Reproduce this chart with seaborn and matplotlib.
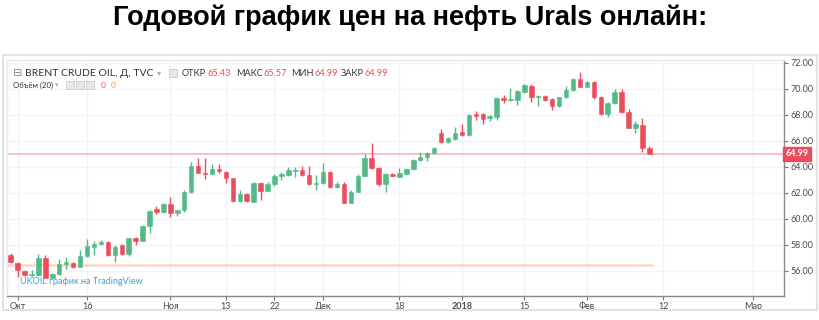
import matplotlib
matplotlib.use("Agg")
import matplotlib.pyplot as plt
from matplotlib.patches import Rectangle
import numpy as np
import pandas as pd
import seaborn as sns

# ---------------- data ----------------
opens = [57.20, 56.62, 56.00, 55.65, 55.67, 56.95, 55.46, 55.75, 56.49, 56.62,
         56.30, 57.13, 57.85, 58.05, 58.18, 57.20, 57.97, 57.26, 58.49, 58.31,
         59.44, 60.72, 60.52, 61.13, 60.42, 60.64, 62.08, 64.05, 63.54, 63.44,
         63.80, 63.62, 63.10, 61.36, 61.88, 61.31, 62.72, 62.15, 62.67, 63.28,
         63.36, 63.67, 63.75, 63.36, 62.67, 62.72, 63.62, 62.41, 62.67, 61.23,
         62.08, 63.31, 64.69, 63.87, 62.67, 63.44, 63.23, 63.44, 63.80, 64.51,
         64.72, 65.03, 66.62, 65.88, 66.13, 66.64, 66.44, 68.05, 68.03, 67.72,
         67.85, 69.26, 69.10, 69.13, 69.77, 70.23, 69.34, 69.46, 69.18, 68.69,
         69.34, 69.90, 70.75, 70.15, 70.49, 69.38, 68.05, 68.92, 69.72, 68.23,
         67.00, 67.21, 65.43]
closes = [56.70, 56.05, 55.70, 55.72, 56.95, 55.46, 55.75, 56.49, 56.64, 56.30,
          57.13, 57.90, 58.05, 58.20, 57.20, 57.85, 57.28, 58.49, 58.31, 59.44,
          60.59, 60.52, 61.13, 60.42, 60.64, 62.08, 64.05, 63.54, 63.44, 63.80,
          63.65, 63.10, 61.36, 61.88, 61.36, 62.72, 62.15, 62.67, 63.31, 63.44,
          63.75, 63.75, 63.36, 62.67, 62.77, 63.62, 62.41, 62.67, 61.23, 62.08,
          63.31, 64.69, 63.87, 62.67, 63.44, 63.31, 63.49, 63.80, 64.51, 64.77,
          65.08, 65.46, 65.88, 66.18, 66.62, 66.44, 67.98, 67.92, 67.67, 67.92,
          69.26, 69.10, 69.18, 69.82, 70.28, 69.34, 69.44, 69.13, 68.69, 69.34,
          69.90, 70.75, 70.15, 70.49, 69.38, 68.05, 68.92, 69.72, 68.18, 67.00,
          67.28, 65.46, 64.99]
highs = [57.38, 56.70, 56.05, 56.05, 57.30, 57.20, 55.85, 56.88, 57.03, 56.70,
         57.60, 58.42, 58.30, 58.35, 58.25, 57.95, 58.05, 58.55, 58.60, 59.55,
         60.70, 60.95, 61.20, 61.65, 60.70, 62.20, 64.38, 64.64, 64.64, 64.21,
         64.21, 63.70, 63.15, 62.20, 61.95, 62.85, 62.80, 62.80, 63.45, 63.62,
         64.00, 64.00, 64.05, 64.05, 63.36, 64.31, 63.70, 62.80, 62.80, 62.20,
         63.40, 64.98, 65.85, 63.95, 63.50, 63.55, 63.87, 63.90, 64.60, 65.10,
         65.15, 65.55, 66.88, 66.30, 67.03, 67.28, 68.05, 68.28, 68.10, 68.00,
         69.35, 69.50, 70.03, 69.90, 70.40, 70.35, 69.50, 69.55, 69.25, 69.40,
         70.23, 70.85, 71.31, 70.60, 70.60, 69.45, 69.00, 69.98, 70.00, 68.45,
         67.50, 67.72, 65.57]
lows = [56.60, 55.55, 55.60, 55.50, 55.60, 55.40, 55.40, 55.70, 56.13, 56.20,
        56.25, 57.05, 57.21, 58.00, 57.15, 56.67, 57.20, 57.10, 57.98, 58.25,
        58.88, 60.35, 60.40, 60.10, 60.20, 60.55, 62.00, 63.50, 63.03, 63.40,
        63.55, 62.72, 61.30, 61.30, 61.30, 61.25, 61.44, 62.10, 62.50, 62.98,
        63.30, 63.23, 63.30, 62.60, 62.20, 62.65, 62.35, 62.35, 61.20, 61.20,
        62.05, 63.25, 63.80, 62.50, 62.08, 63.25, 63.20, 63.40, 63.75, 64.45,
        64.46, 64.95, 65.80, 65.80, 66.05, 66.35, 66.40, 67.60, 67.30, 67.50,
        67.60, 68.88, 69.05, 68.75, 69.70, 68.95, 68.69, 69.05, 68.36, 68.60,
        69.30, 69.85, 70.10, 70.10, 69.20, 68.00, 67.85, 68.85, 68.10, 66.95,
        66.57, 65.10, 64.99]

tick_positions = [1, 11, 23, 31, 38, 45, 56, 65, 74, 83, 94, 107]
tick_labels = ["Окт", "16", "Ноя", "13", "22", "Дек", "18", "2018", "15", "Фев", "12", "Мар"]
price_ticks = [56, 58, 60, 62, 64, 66, 68, 70, 72]
last_price = 64.99
support_level = 56.45
header_labels = ["ОТКР", "МАКС", "МИН", "ЗАКР"]
header_values = ["65.43", "65.57", "64.99", "64.99"]

title = "Годовой график цен на нефть Urals онлайн:"
symbol = "BRENT CRUDE OIL, Д, TVC"
volume_label = "Объём (20)"
watermark = "UKOIL график на TradingView"

# ---------------- style ----------------
UP = "#53b987"
DOWN = "#eb4d5c"
GRID = "#f0f3fa"
TXT = "#4a4a4a"

sns.set_theme(style="white")
plt.rcParams["font.family"] = ["Lato", "DejaVu Sans"]

W, H = 820, 320
fig = plt.figure(figsize=(W / 100, H / 100), dpi=100)
fig.patch.set_facecolor("white")


def fx(x):
    return x / W


def fy(y):
    return 1 - y / H


# outer frame of the widget
fig.patches.append(Rectangle((fx(3), fy(310)), fx(814), (307 - 52) / H,
                             transform=fig.transFigure, fill=False,
                             edgecolor="#e0e3eb", lw=1.5, zorder=0))

left, right, top, bottom = 7, 784, 60, 296
ax = fig.add_axes([fx(left), fy(bottom), fx(right - left), (bottom - top) / H])

df = pd.DataFrame({"open": opens, "close": closes, "high": highs, "low": lows})
df["idx"] = np.arange(len(df))
df["up"] = df["close"] >= df["open"]
df["color"] = np.where(df["up"], UP, DOWN)
df["body_lo"] = df[["open", "close"]].min(axis=1)
df["body_h"] = (df["close"] - df["open"]).abs().clip(lower=0.06)

# grid
for p in price_ticks:
    ax.axhline(p, color=GRID, lw=1, zorder=0)
for t in tick_positions:
    ax.axvline(t, color=GRID, lw=1, zorder=0)

# reference lines
ax.hlines(support_level, -0.5, len(df) - 0.5, color="#f8d8c8", lw=1.8, zorder=1)
ax.axhline(last_price, color="#f4b6bd", lw=1.2, zorder=1)

# candles
ax.vlines(df["idx"], df["low"], df["high"], colors=df["color"], lw=1, zorder=2)
ax.bar(df["idx"], df["body_h"], bottom=df["body_lo"], width=0.64,
       color=df["color"], edgecolor=df["color"], lw=0.4, zorder=3)

ax.set_xlim(-0.53, 111.4)
ax.set_ylim(54.05, 72.21)

ax.yaxis.tick_right()
ax.set_yticks(price_ticks)
ax.set_yticklabels([f"{p:.2f}" for p in price_ticks])
ax.set_xticks(tick_positions)
ax.set_xticklabels(tick_labels)
for lab in ax.get_xticklabels():
    if lab.get_text() == "2018":
        lab.set_fontweight("bold")
ax.tick_params(axis="both", labelsize=6.5, colors="#777777", labelcolor=TXT,
               length=3, width=0.8, pad=2)
ax.tick_params(axis="x", pad=1)
ax.tick_params(axis="y", right=True, left=False)
ax.tick_params(axis="x", bottom=True)

for side in ["top", "left"]:
    ax.spines[side].set_color("#e6e8ee")
    ax.spines[side].set_linewidth(1)
for side in ["right", "bottom"]:
    ax.spines[side].set_color("#8a8a8a")
    ax.spines[side].set_linewidth(1)

# last price tag
ax.text(1.002, last_price, f"{last_price:.2f}", transform=ax.get_yaxis_transform(),
        ha="left", va="center", fontsize=6.5, color="white", fontweight="bold",
        bbox=dict(boxstyle="square,pad=0.25", fc=DOWN, ec=DOWN), zorder=5,
        clip_on=False)

# title
fig.text(fx(410), fy(18), title, ha="center", va="center", fontsize=19.5,
         fontweight="bold", family=["Liberation Sans", "DejaVu Sans"], color="black")

# header legend
fig.text(fx(13), fy(73), "⊟", ha="left", va="center", fontsize=8, color="#888888",
         family=["DejaVu Sans"])
fig.text(fx(25), fy(73), symbol, ha="left", va="center", fontsize=7.45, color="#333333")
fig.text(fx(157), fy(73), "▾", ha="left", va="center", fontsize=6, color="#aaaaaa",
         family=["DejaVu Sans"])
fig.patches.append(Rectangle((fx(169), fy(77)), fx(8), 8 / H, transform=fig.transFigure,
                             fill=True, fc="#e8e8e8", ec="#cccccc", lw=0.6))

renderer = fig.canvas.get_renderer()
label_x = [182, 236, 291, 341]
for lab, val, x0 in zip(header_labels, header_values, label_x):
    t = fig.text(fx(x0), fy(73), lab, ha="left", va="center", fontsize=6.6, color="#333333")
    bb = t.get_window_extent(renderer=renderer)
    fig.text((bb.x1 + 1) / W, fy(73), val, ha="left", va="center", fontsize=6.6, color=DOWN)

fig.text(fx(13), fy(85), volume_label, ha="left", va="center", fontsize=5.6, color="#333333")
fig.text(fx(55), fy(85), "▾", ha="left", va="center", fontsize=5, color="#aaaaaa",
         family=["DejaVu Sans"])
for x0 in [66, 76, 86]:
    fig.patches.append(Rectangle((fx(x0), fy(89)), fx(8), 8 / H, transform=fig.transFigure,
                                 fill=True, fc="#e8e8e8", ec="#cccccc", lw=0.6))
fig.text(fx(101), fy(85), "0", ha="left", va="center", fontsize=6, color=DOWN)
fig.text(fx(111), fy(85), "0", ha="left", va="center", fontsize=6, color="#f29a4a")

# watermark
fig.text(fx(20), fy(282), watermark, ha="left", va="center", fontsize=6.45, color="#3ba4da")

fig.savefig("out.png", dpi=100)
